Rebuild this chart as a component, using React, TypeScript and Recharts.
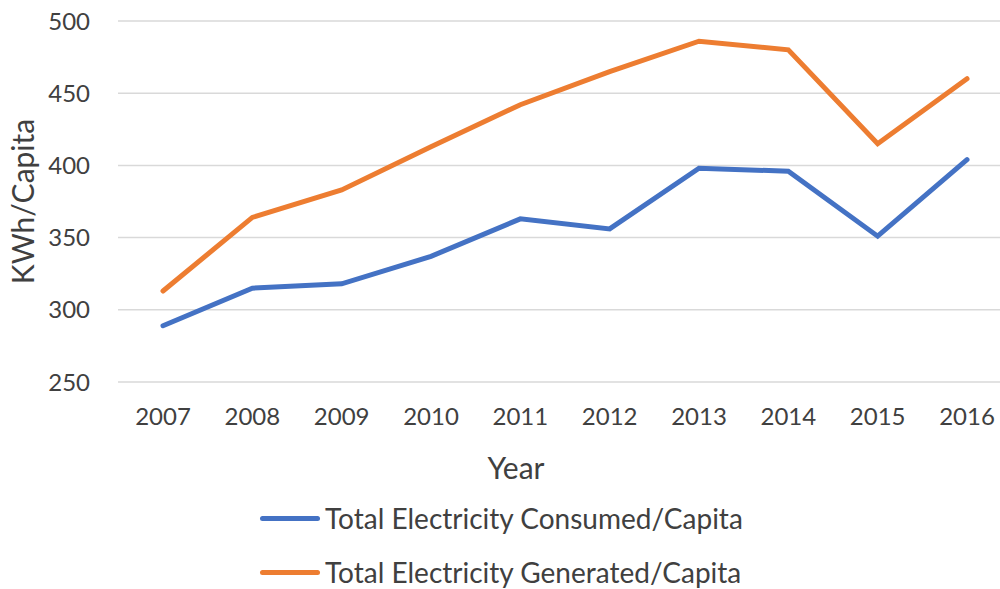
import { CartesianGrid, Line, LineChart, XAxis, YAxis } from 'recharts'

const years = ['2007', '2008', '2009', '2010', '2011', '2012', '2013', '2014', '2015', '2016']
const consumed = [289, 315, 318, 337, 363, 356, 398, 396, 351, 404]
const generated = [313, 364, 383, 413, 442, 465, 486, 480, 415, 460]
const yTicks = [250, 300, 350, 400, 450, 500]

const seriesNames = ['Total Electricity Consumed/Capita', 'Total Electricity Generated/Capita']
const COLORS = ['#4472C4', '#ED7D31'] // excel blue / orange

const data = years.map((year, i) => ({
    year,
    consumed: consumed[i],
    generated: generated[i],
}))

const FONT = 'Lato, "Open Sans", sans-serif'

const YTitle = ({ viewBox }: any) => {
    const cx = 22
    const cy = viewBox.y + viewBox.height / 2
    return (
        <text
            x={cx}
            y={cy}
            transform={`rotate(-90, ${cx}, ${cy})`}
            textAnchor="middle"
            dominantBaseline="central"
            fontSize={30}
            fill="#404040"
            fontFamily={FONT}
        >
            KWh/Capita
        </text>
    )
}

const XTitle = ({ viewBox }: any) => (
    <text
        x={viewBox.x + viewBox.width / 2 - 49}
        y={467}
        textAnchor="middle"
        dominantBaseline="central"
        fontSize={30}
        fill="#404040"
        fontFamily={FONT}
    >
        Year
    </text>
)

export default function App() {
    // the plot runs a little past the right edge, so clip it to the page
    return (
        <div
            style={{
                position: 'absolute',
                top: 0,
                left: 0,
                width: 1000,
                height: 589,
                overflow: 'hidden',
                fontFamily: FONT,
                background: '#fff',
            }}
        >
            <LineChart
                width={1012}
                height={589}
                data={data}
                margin={{ top: 21, right: 0, bottom: 0, left: 0 }}
            >
                <CartesianGrid vertical={false} stroke="#d9d9d9" strokeWidth={1.5} />
                <XAxis
                    dataKey="year"
                    height={207}
                    padding={{ left: 45, right: 45 }}
                    axisLine={false}
                    tickLine={false}
                    tickSize={0}
                    tickMargin={26}
                    tick={{ fontSize: 24, fill: '#404040', fontFamily: FONT }}
                    label={<XTitle />}
                />
                <YAxis
                    domain={[250, 500]}
                    ticks={yTicks}
                    width={118}
                    axisLine={false}
                    tickLine={false}
                    tickSize={0}
                    tickMargin={28}
                    tick={{ fontSize: 24, fill: '#404040', fontFamily: FONT }}
                    label={<YTitle />}
                />
                <Line
                    dataKey="consumed"
                    name={seriesNames[0]}
                    stroke={COLORS[0]}
                    strokeWidth={5}
                    dot={false}
                    strokeLinecap="round"
                    isAnimationActive={false}
                />
                <Line
                    dataKey="generated"
                    name={seriesNames[1]}
                    stroke={COLORS[1]}
                    strokeWidth={5}
                    dot={false}
                    strokeLinecap="round"
                    isAnimationActive={false}
                />
            </LineChart>
            <div style={{ position: 'absolute', left: 260, top: 491 }}>
                {seriesNames.map((name, i) => (
                    <div key={name} style={{ display: 'flex', alignItems: 'center', height: 54 }}>
                        <div
                            style={{
                                width: 60,
                                height: 5,
                                borderRadius: 3,
                                background: COLORS[i],
                                marginRight: 5,
                            }}
                        />
                        <span style={{ fontSize: 28, color: '#404040', whiteSpace: 'nowrap' }}>{name}</span>
                    </div>
                ))}
            </div>
        </div>
    )
}
